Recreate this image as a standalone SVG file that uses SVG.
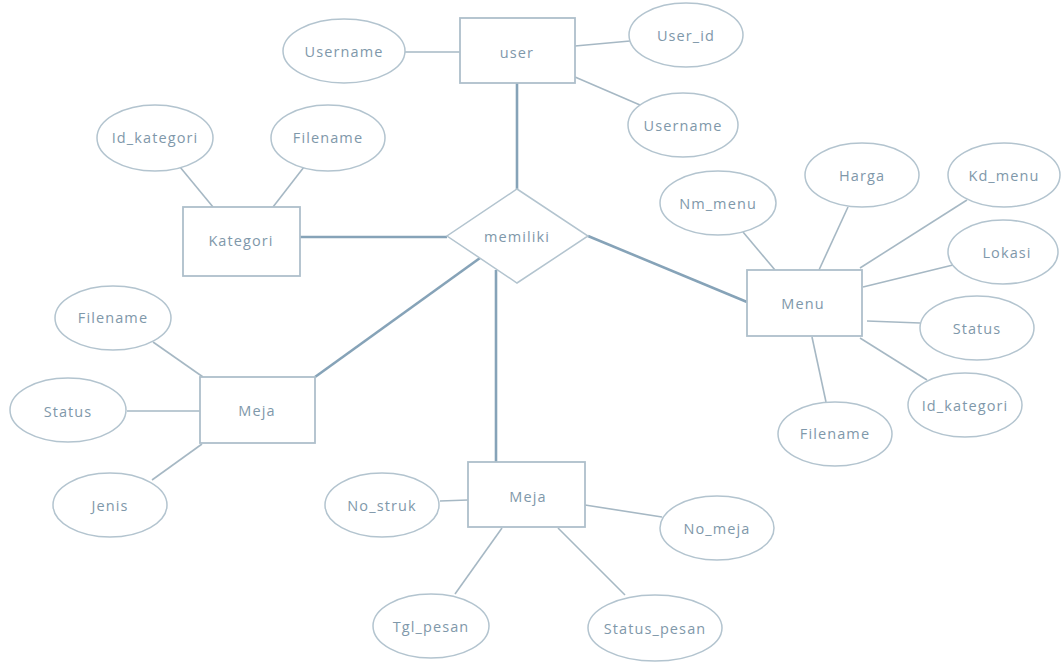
<svg xmlns="http://www.w3.org/2000/svg" width="1061" height="669" viewBox="0 0 1061 669">
<style>
.e{fill:#fff;stroke:#b3c4cf;stroke-width:1.5}
.r{fill:#fff;stroke:#aebfcb;stroke-width:1.8}
.d{fill:#fff;stroke:#b3c4cf;stroke-width:1.5}
.a{stroke:#a6b8c4;stroke-width:1.6;fill:none}
.m{stroke:#86a3b8;stroke-width:2.6;fill:none}
text{font-family:"Open Sans","Noto Sans",sans-serif;font-size:14.5px;fill:#7f98aa;text-anchor:middle;dominant-baseline:central;letter-spacing:1.1px}
</style>
<rect width="1061" height="669" fill="#fff"/>
<g id="connectors">
<line class="m" x1="517" y1="83" x2="517" y2="189"/>
<line class="m" x1="300" y1="237" x2="447" y2="237"/>
<line class="m" x1="480" y1="258" x2="315" y2="377"/>
<line class="m" x1="496" y1="270" x2="496" y2="462"/>
<line class="m" x1="588" y1="236" x2="747" y2="302"/>
<line class="a" x1="405" y1="52" x2="460" y2="52"/>
<line class="a" x1="575" y1="46" x2="630" y2="41"/>
<line class="a" x1="575" y1="77" x2="640" y2="105"/>
<line class="a" x1="180" y1="167" x2="213" y2="207"/>
<line class="a" x1="304" y1="167" x2="273" y2="207"/>
<line class="a" x1="743" y1="232" x2="775" y2="270"/>
<line class="a" x1="848" y1="207" x2="819" y2="270"/>
<line class="a" x1="967" y1="200" x2="860" y2="268"/>
<line class="a" x1="953" y1="265" x2="863" y2="287"/>
<line class="a" x1="867" y1="321" x2="920" y2="323"/>
<line class="a" x1="860" y1="338" x2="927" y2="380"/>
<line class="a" x1="812" y1="337" x2="826" y2="402"/>
<line class="a" x1="153" y1="342" x2="203" y2="377"/>
<line class="a" x1="127" y1="411" x2="200" y2="411"/>
<line class="a" x1="152" y1="480" x2="202" y2="444"/>
<line class="a" x1="440" y1="501" x2="468" y2="500"/>
<line class="a" x1="585" y1="505" x2="662" y2="517"/>
<line class="a" x1="455" y1="594" x2="502" y2="528"/>
<line class="a" x1="558" y1="528" x2="625" y2="595"/>
</g>
<g id="user"><rect class="r" x="460" y="18" width="115" height="65"/><text x="517" y="52">user</text></g>
<g id="user-username1"><ellipse class="e" cx="344" cy="51" rx="61" ry="32"/><text x="344" y="51">Username</text></g>
<g id="user-userid"><ellipse class="e" cx="686" cy="35" rx="57" ry="32"/><text x="686" y="35">User_id</text></g>
<g id="user-username2"><ellipse class="e" cx="683" cy="125" rx="55" ry="32"/><text x="683" y="125">Username</text></g>
<g id="memiliki"><polygon class="d" points="517,189 588,236 517,283 447,236"/><text x="517" y="236">memiliki</text></g>
<g id="kategori"><rect class="r" x="183" y="207" width="117" height="69"/><text x="241" y="240">Kategori</text></g>
<g id="kat-id"><ellipse class="e" cx="155" cy="138" rx="58" ry="33"/><text x="155" y="137">Id_kategori</text></g>
<g id="kat-filename"><ellipse class="e" cx="328" cy="138" rx="57" ry="33"/><text x="328" y="137">Filename</text></g>
<g id="menu"><rect class="r" x="747" y="270" width="115" height="66"/><text x="803" y="303">Menu</text></g>
<g id="menu-nm"><ellipse class="e" cx="718" cy="203" rx="58" ry="32"/><text x="718" y="203">Nm_menu</text></g>
<g id="menu-harga"><ellipse class="e" cx="862" cy="175" rx="57" ry="32"/><text x="862" y="175">Harga</text></g>
<g id="menu-kd"><ellipse class="e" cx="1004" cy="175" rx="56" ry="32"/><text x="1004" y="175">Kd_menu</text></g>
<g id="menu-lokasi"><ellipse class="e" cx="1003" cy="252" rx="55" ry="32"/><text x="1007" y="252">Lokasi</text></g>
<g id="menu-status"><ellipse class="e" cx="977" cy="328" rx="57" ry="32"/><text x="977" y="328">Status</text></g>
<g id="menu-idkat"><ellipse class="e" cx="965" cy="405" rx="57" ry="32"/><text x="965" y="405">Id_kategori</text></g>
<g id="menu-filename"><ellipse class="e" cx="835" cy="434" rx="57" ry="32"/><text x="835" y="433">Filename</text></g>
<g id="meja1"><rect class="r" x="200" y="377" width="115" height="66"/><text x="257" y="410">Meja</text></g>
<g id="meja1-filename"><ellipse class="e" cx="113" cy="318" rx="58" ry="32"/><text x="113" y="317">Filename</text></g>
<g id="meja1-status"><ellipse class="e" cx="68" cy="410" rx="58" ry="32"/><text x="68" y="411">Status</text></g>
<g id="meja1-jenis"><ellipse class="e" cx="110" cy="505" rx="57" ry="32"/><text x="110" y="505">Jenis</text></g>
<g id="meja2"><rect class="r" x="468" y="462" width="117" height="65"/><text x="528" y="496">Meja</text></g>
<g id="meja2-nostruk"><ellipse class="e" cx="382" cy="505" rx="57" ry="32"/><text x="382" y="505">No_struk</text></g>
<g id="meja2-nomeja"><ellipse class="e" cx="717" cy="528" rx="57" ry="32"/><text x="717" y="528">No_meja</text></g>
<g id="meja2-tgl"><ellipse class="e" cx="431" cy="626" rx="58" ry="32"/><text x="431" y="626">Tgl_pesan</text></g>
<g id="meja2-status"><ellipse class="e" cx="655" cy="628" rx="67" ry="33"/><text x="655" y="628">Status_pesan</text></g>
</svg>
